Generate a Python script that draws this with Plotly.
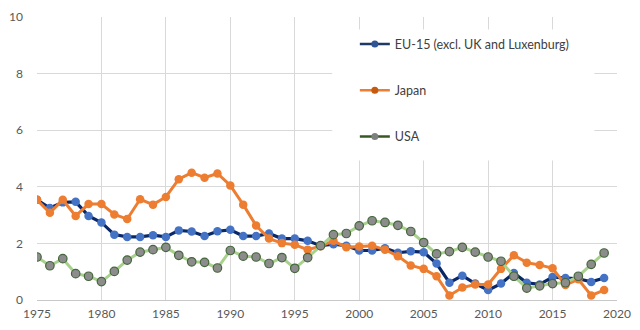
import plotly.graph_objects as go

years = list(range(1975, 2020))

eu15 = [3.54, 3.25, 3.45, 3.47, 2.97, 2.74, 2.31, 2.23, 2.23, 2.29,
        2.23, 2.46, 2.42, 2.26, 2.43, 2.48, 2.26, 2.26, 2.35, 2.17,
        2.17, 2.09, 1.92, 1.97, 1.92, 1.75, 1.75, 1.83, 1.67, 1.72,
        1.69, 1.29, 0.61, 0.86, 0.58, 0.35, 0.58, 0.95, 0.61, 0.55,
        0.81, 0.78, 0.75, 0.64, 0.78]

japan = [3.54, 3.08, 3.54, 2.97, 3.39, 3.39, 3.02, 2.86, 3.56, 3.37,
         3.64, 4.27, 4.50, 4.32, 4.47, 4.05, 3.37, 2.63, 2.17, 2.01,
         1.95, 1.78, 1.90, 2.09, 1.86, 1.89, 1.92, 1.78, 1.55, 1.22,
         1.10, 0.84, 0.16, 0.44, 0.55, 0.55, 1.10, 1.58, 1.32, 1.24,
         1.12, 0.53, 0.73, 0.16, 0.35]

usa = [1.52, 1.21, 1.46, 0.93, 0.84, 0.65, 1.01, 1.41, 1.69, 1.78,
       1.86, 1.58, 1.35, 1.33, 1.13, 1.75, 1.55, 1.52, 1.29, 1.50,
       1.12, 1.50, 1.92, 2.31, 2.35, 2.62, 2.80, 2.74, 2.64, 2.42,
       2.03, 1.63, 1.71, 1.86, 1.69, 1.52, 1.37, 0.84, 0.42, 0.50,
       0.58, 0.61, 0.84, 1.26, 1.66]

names = ["EU-15 (excl. UK and Luxenburg)", "Japan", "USA"]
x_ticks = list(range(1975, 2021, 5))
y_ticks = list(range(0, 11, 2))

FONT = "Lato"
fig = go.Figure()

# plotted series (legend drawn with separate entries below)
fig.add_trace(go.Scatter(x=years, y=eu15, mode="lines+markers", showlegend=False,
                         line=dict(color="#0B2866", width=3.2),
                         marker=dict(size=8.5, color="#4472C4", line=dict(width=0))))
fig.add_trace(go.Scatter(x=years, y=japan, mode="lines+markers", showlegend=False,
                         line=dict(color="#ED7D31", width=3),
                         marker=dict(size=8.5, color="#ED7D31", line=dict(width=0))))
fig.add_trace(go.Scatter(x=years, y=usa, mode="lines+markers", showlegend=False,
                         line=dict(color="#A9D18E", width=3),
                         marker=dict(size=8.5, color="#8C8C8C", line=dict(width=1.2, color="#44663A"))))

# legend entries
leg = [("#1F3864", "#2F5597"), ("#ED7D31", "#C55A11"), ("#385723", "#7F7F7F")]
for i, (nm, (lc, mc)) in enumerate(zip(names, leg)):
    fig.add_trace(go.Scatter(x=[None], y=[None], mode="lines+markers", name=nm,
                             legendgroup=f"g{i}",
                             line=dict(color=lc, width=2.5),
                             marker=dict(size=7, color=mc)))

# white legend background panel (covers gridlines like the Excel legend box)
fig.add_shape(type="rect", xref="paper", yref="paper",
              x0=0.509, x1=0.961, y0=0.493, y1=0.956,
              fillcolor="white", line=dict(width=0), layer="above")

fig.update_layout(
    width=640, height=330,
    margin=dict(l=32, r=19, t=9, b=27),
    paper_bgcolor="white", plot_bgcolor="white",
    font=dict(family=FONT, size=12, color="#595959"),
    legend=dict(x=0.548, xanchor="left", y=0.956, yanchor="top",
                bgcolor="rgba(0,0,0,0)", borderwidth=0,
                tracegroupgap=27, itemwidth=30,
                font=dict(family=FONT, size=12.5, color="#404040")),
    xaxis=dict(range=[1975, 2020], tickvals=x_ticks, ticktext=[str(t) for t in x_ticks],
               showgrid=True, gridcolor="#D9D9D9", gridwidth=1,
               showline=True, linecolor="#C8C8C8", linewidth=1,
               zeroline=False, ticks="", ticklabelstandoff=3, fixedrange=True),
    yaxis=dict(range=[0, 10], tickvals=y_ticks, ticktext=[str(t) for t in y_ticks],
               showgrid=True, gridcolor="#D9D9D9", gridwidth=1,
               zeroline=False, ticks="", ticklabelstandoff=13, fixedrange=True),
)

fig.write_html("out.html")
